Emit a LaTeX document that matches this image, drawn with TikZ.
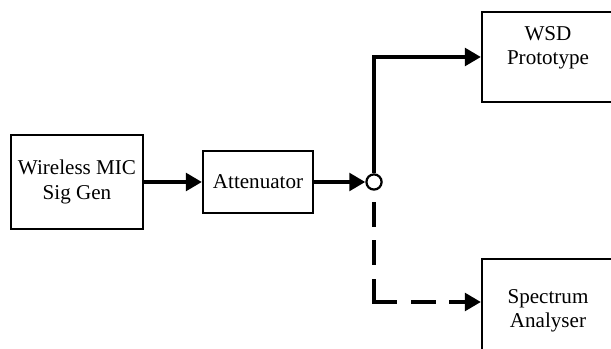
\documentclass[tikz,border=0pt]{standalone}
\usepackage{fontspec}
\setmainfont{Liberation Serif}
\usetikzlibrary{arrows.meta, positioning, calc}

\begin{document}
\begin{tikzpicture}[
    block/.style={draw, line width=1.6pt, align=center, inner sep=0pt,
                  font=\fontsize{15}{17.5}\selectfont},                 % Rectangular blocks
    blocktext/.style={align=center, font=\fontsize{15}{17}\selectfont},   % Text shifted inside a block
    tap/.style={circle, draw, line width=1.6pt, minimum size=0.38cm, inner sep=0pt}, % Splitter point
    link/.style={line width=2.6pt, -{Triangle[length=0.4cm, width=0.44cm]}},        % Solid arrows
    dashlink/.style={line width=2.6pt, line cap=rect, dash pattern=on 0.54cm off 0.42cm} % Dashed line
]

\useasboundingbox (0,0) rectangle (15.275,8.725);
\clip (0,0) rectangle (15.275,8.725);

% --- SIGNAL CHAIN ---
\node[block, minimum width=3.3cm, minimum height=2.35cm] (siggen) at (1.925,4.175) {Wireless MIC\\Sig Gen};
\node[block, minimum width=2.75cm, minimum height=1.55cm] (atten) at (6.45,4.175) {Attenuator};
\node[tap] (split) at (9.35,4.175) {};

% --- RECEIVERS (cut off at the right edge) ---
\node[block, minimum width=3.3cm, minimum height=2.25cm,
      label={[blocktext, yshift=0.22cm]center:{WSD\\Prototype}}] (wsd) at (13.7,7.3) {};
\node[block, minimum width=3.3cm, minimum height=2.6cm,
      label={[blocktext]center:{Spectrum\\Analyser}}] (spec) at (13.7,0.95) {};

% --- CONNECTIONS ---
\draw[link] (siggen) -- (atten);
\draw[link] (atten) -- (split);
\draw[link] (split.north) |- (wsd.west);   % solid branch to the prototype

\coordinate (bend) at (9.35,1.175);        % corner of the dashed branch
\draw[dashlink] (bend) -- (split.south);
\draw[dashlink, link] (bend) -- (bend -| spec.west);

\end{tikzpicture}
\end{document}
